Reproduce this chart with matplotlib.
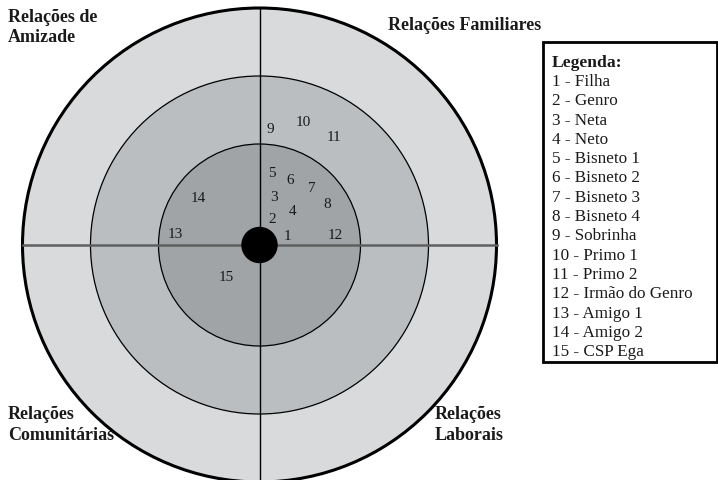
import matplotlib.pyplot as plt
from matplotlib.patches import Circle, Rectangle

# ring radii (px) from inner to outer
ring_radii = [101, 169, 237]
ring_colors = ['#a0a4a6', '#bbbec0', '#d9dadb']

# people: id, offset from centre (x right, y up)
people_ids = ['1', '2', '3', '4', '5', '6', '7', '8', '9', '10', '11', '12', '13', '14', '15']
people_dx = [27.8, 12.8, 14.8, 32.8, 12.2, 30.5, 52.2, 67.2, 11.2, 43.8, 74.8, 76.2, -84.5, -61.2, -32.8]
people_dy = [9.3, 26.7, 48.3, 34.3, 72.7, 66.0, 57.7, 41.7, 116.7, 123.3, 108.3, 10.0, 11.7, 47.0, -31.7]

legend_names = ['Filha', 'Genro', 'Neta', 'Neto', 'Bisneto 1', 'Bisneto 2', 'Bisneto 3',
                'Bisneto 4', 'Sobrinha', 'Primo 1', 'Primo 2', 'Irmão do Genro',
                'Amigo 1', 'Amigo 2', 'CSP Ega']

quadrant_labels = ['Relações de\nAmizade', 'Relações Familiares',
                   'Relações\nComunitárias', 'Relações\nLaborais']

plt.rcParams['font.family'] = ['Liberation Serif', 'DejaVu Serif']

W, H = 718, 481
cx, cy = 259.5, 246

fig = plt.figure(figsize=(W / 100, H / 100), dpi=100)
ax = fig.add_axes([0, 0, 1, 1])
ax.set_xlim(-cx, W - cx)
ax.set_ylim(-(H - cy), cy)
ax.set_aspect('equal')
ax.axis('off')

# rings, outermost first
for r, col in zip(reversed(ring_radii), reversed(ring_colors)):
    lw = 2.2 if r == ring_radii[-1] else 0.9
    ax.add_patch(Circle((0, 0), r, facecolor=col, edgecolor='black', lw=lw, zorder=1))

R = ring_radii[-1]
ax.plot([-R, R], [0, 0], color='#5f5f5f', lw=1.8, zorder=2)
ax.plot([0, 0], [-R, R], color='black', lw=1.0, zorder=2)
ax.add_patch(Circle((0, 0), 17.5, facecolor='black', edgecolor='black', zorder=3))

for pid, dx, dy in zip(people_ids, people_dx, people_dy):
    ax.text(dx, dy, pid, fontsize=11, ha='center', va='center', color='#1a1a1a', zorder=4)


def px(x, y):
    return x - cx, cy - y


bold = dict(fontsize=13, fontweight='bold', color='#1a1a1a', linespacing=1.08)
ax.text(*px(8, 18), quadrant_labels[0].split('\n')[0], ha='left', va='center', **bold)
ax.text(*px(8, 38), quadrant_labels[0].split('\n')[1], ha='left', va='center', **bold)
ax.text(*px(388, 25), quadrant_labels[1], ha='left', va='center', **bold)
for lab, x0 in [(quadrant_labels[2], 8), (quadrant_labels[3], 435)]:
    top, bottom = lab.split('\n')
    ax.text(*px(x0, 415), top, ha='left', va='center', **bold)
    ax.text(*px(x0, 436), bottom, ha='left', va='center', **bold)

# legend box
bx0, by0 = px(543, 363)
bx1, by1 = px(716.5, 43)
ax.add_patch(Rectangle((bx0, by0), bx1 - bx0, by1 - by0, facecolor='white',
                       edgecolor='black', lw=2.0, zorder=5, clip_on=False))
ax.text(*px(552, 63), 'Legenda:', fontsize=12.6, fontweight='bold', ha='left', va='center',
        color='#1a1a1a', zorder=6)
step = 19.3
for i, (pid, name) in enumerate(zip(people_ids, legend_names)):
    ax.text(*px(552, 82 + i * step), f'{pid} - {name}', fontsize=12.3, ha='left', va='center',
            color='#1a1a1a', zorder=6)

fig.savefig('out.png', dpi=100)
